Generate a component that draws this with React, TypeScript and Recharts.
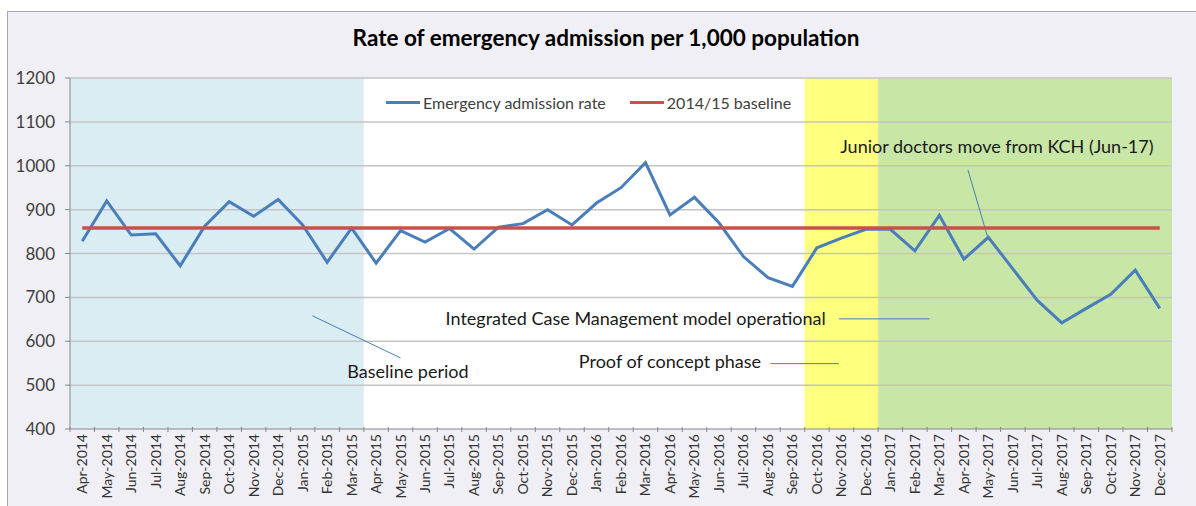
import React from 'react'
import {
  ComposedChart, Line, XAxis, YAxis, CartesianGrid,
  ReferenceArea, ReferenceLine, ReferenceDot,
} from 'recharts'

const months = [
  'Apr-2014', 'May-2014', 'Jun-2014', 'Jul-2014', 'Aug-2014', 'Sep-2014', 'Oct-2014', 'Nov-2014', 'Dec-2014',
  'Jan-2015', 'Feb-2015', 'Mar-2015', 'Apr-2015', 'May-2015', 'Jun-2015', 'Jul-2015', 'Aug-2015', 'Sep-2015',
  'Oct-2015', 'Nov-2015', 'Dec-2015', 'Jan-2016', 'Feb-2016', 'Mar-2016', 'Apr-2016', 'May-2016', 'Jun-2016',
  'Jul-2016', 'Aug-2016', 'Sep-2016', 'Oct-2016', 'Nov-2016', 'Dec-2016', 'Jan-2017', 'Feb-2017', 'Mar-2017',
  'Apr-2017', 'May-2017', 'Jun-2017', 'Jul-2017', 'Aug-2017', 'Sep-2017', 'Oct-2017', 'Nov-2017', 'Dec-2017',
]

const admissionRate = [
  828, 920, 842, 845, 772, 862, 918, 885, 923,
  865, 780, 858, 778, 852, 826, 857, 810, 860,
  868, 900, 865, 915, 950, 1007, 888, 928, 870,
  793, 745, 725, 813, 835, 855, 855, 806, 887,
  787, 837, 765, 693, 642, 675, 707, 762, 675,
]

const BASELINE = 858

const yTicks = [400, 500, 600, 700, 800, 900, 1000, 1100, 1200]

// shaded phases: first and last month of each
const phases = [
  { from: 'Apr-2014', to: 'Mar-2015', fill: '#daedf3' },
  { from: 'Apr-2015', to: 'Sep-2016', fill: '#ffffff' },
  { from: 'Oct-2016', to: 'Dec-2016', fill: '#ffff7f' },
  { from: 'Jan-2017', to: 'Dec-2017', fill: '#c8e6a5' },
]

// annotation text + pointer lines (month number, rate)
const notes = [
  { text: 'Baseline period', x: 13.3, y: 530, line: [[9.4, 658], [13.0, 562]] },
  { text: 'Integrated Case Management model operational', x: 22.6, y: 651, line: [[30.9, 651], [34.6, 651]] },
  { text: 'Proof of concept phase', x: 24.0, y: 554, line: [[28.1, 549], [30.9, 549]] },
  { text: 'Junior doctors move from KCH (Jun-17)', x: 37.35, y: 1043, line: [[36.17, 990], [36.98, 836]] },
]

const data = months.map((m, i) => ({
  month: m,
  n: i,
  rate: admissionRate[i],
  baseline: BASELINE,
}))

const FONT = 'Lato, "Open Sans", sans-serif'

const MonthTick = (props: any) => {
  const { x, y, payload, index } = props
  const off = payload.offset || 0
  const top = y - 10
  return (
    <g>
      <line x1={x - off} x2={x - off} y1={top} y2={top + 5} stroke="#868686" />
      {index === months.length - 1 && (
        <line x1={x + off} x2={x + off} y1={top} y2={top + 5} stroke="#868686" />
      )}
      <text
        transform={`translate(${x},${top + 7}) rotate(-90)`}
        textAnchor="end"
        dy="0.35em"
        fontSize={14}
        fontFamily={FONT}
        fill="#333333"
      >
        {payload.value}
      </text>
    </g>
  )
}

export default function App() {
  return (
    <div style={{ position: 'absolute', left: 0, top: 0, width: 1196, height: 506, background: '#ffffff', overflow: 'hidden' }}>
      <div style={{ position: 'absolute', left: 7, top: 11, width: 1200, height: 500, background: '#f0eff5', borderTop: '1.5px solid #a6a6a6', borderLeft: '1.5px solid #a6a6a6' }} />
      <div style={{ position: 'absolute', left: 0, top: 24, width: 1212, textAlign: 'center', fontFamily: FONT, fontWeight: 700, fontSize: 22.5, color: '#000' }}>
        Rate of emergency admission per 1,000 population
      </div>
      <div style={{ position: 'absolute', left: 0, top: 0 }}>
        <ComposedChart width={1196} height={506} data={data} margin={{ top: 78, right: 24, bottom: 0, left: 0 }}>
          <CartesianGrid horizontal={false} vertical={false} fill="#ffffff" />
          <XAxis xAxisId="idx" dataKey="n" type="number" domain={[-0.5, 44.5]} allowDataOverflow hide />
          {phases.map((p, i) => (
            <ReferenceArea key={i} x1={p.from} x2={p.to} y1={400} y2={1200} fill={p.fill} fillOpacity={1} stroke="none" />
          ))}
          {yTicks.slice(1).map((t) => (
            <ReferenceLine key={t} y={t} stroke="#c4c4c4" strokeWidth={1.5} />
          ))}
          <XAxis
            dataKey="month"
            scale="band"
            interval={0}
            height={77}
            tickLine={false}
            tick={<MonthTick />}
            axisLine={{ stroke: '#868686' }}
          />
          <YAxis
            domain={[400, 1200]}
            ticks={yTicks}
            width={70}
            tickSize={5}
            tickMargin={10}
            tickLine={{ stroke: '#868686' }}
            axisLine={{ stroke: '#868686' }}
            tick={{ fontSize: 17, fontFamily: FONT, fill: '#404040' }}
          />
          {notes.map((n, i) => (
            <ReferenceLine
              key={`l${i}`}
              xAxisId="idx"
              segment={[{ x: n.line[0][0], y: n.line[0][1] }, { x: n.line[1][0], y: n.line[1][1] }]}
              stroke="#4a7ebb"
              strokeWidth={1}
            />
          ))}
          {notes.map((n, i) => (
            <ReferenceDot
              key={`t${i}`}
              xAxisId="idx"
              x={n.x}
              y={n.y}
              r={0}
              fill="none"
              stroke="none"
              label={{ value: n.text, position: 'center', fontSize: 18, fontFamily: FONT, fill: '#1a1a1a' }}
            />
          ))}
          <Line dataKey="rate" stroke="#4a7ebb" strokeWidth={3} dot={false} isAnimationActive={false} />
          <Line dataKey="baseline" stroke="#c9504c" strokeWidth={3.5} dot={false} isAnimationActive={false} />
        </ComposedChart>
      </div>
      <div style={{ position: 'absolute', left: 386, top: 93, display: 'flex', alignItems: 'center', fontFamily: FONT, fontSize: 16, color: '#404040' }}>
        <span style={{ width: 34, height: 3, background: '#4a7ebb', display: 'inline-block', marginRight: 3 }} />
        <span style={{ marginRight: 24 }}>Emergency admission rate</span>
        <span style={{ width: 34, height: 3, background: '#c9504c', display: 'inline-block', marginRight: 3 }} />
        <span>2014/15 baseline</span>
      </div>
    </div>
  )
}
